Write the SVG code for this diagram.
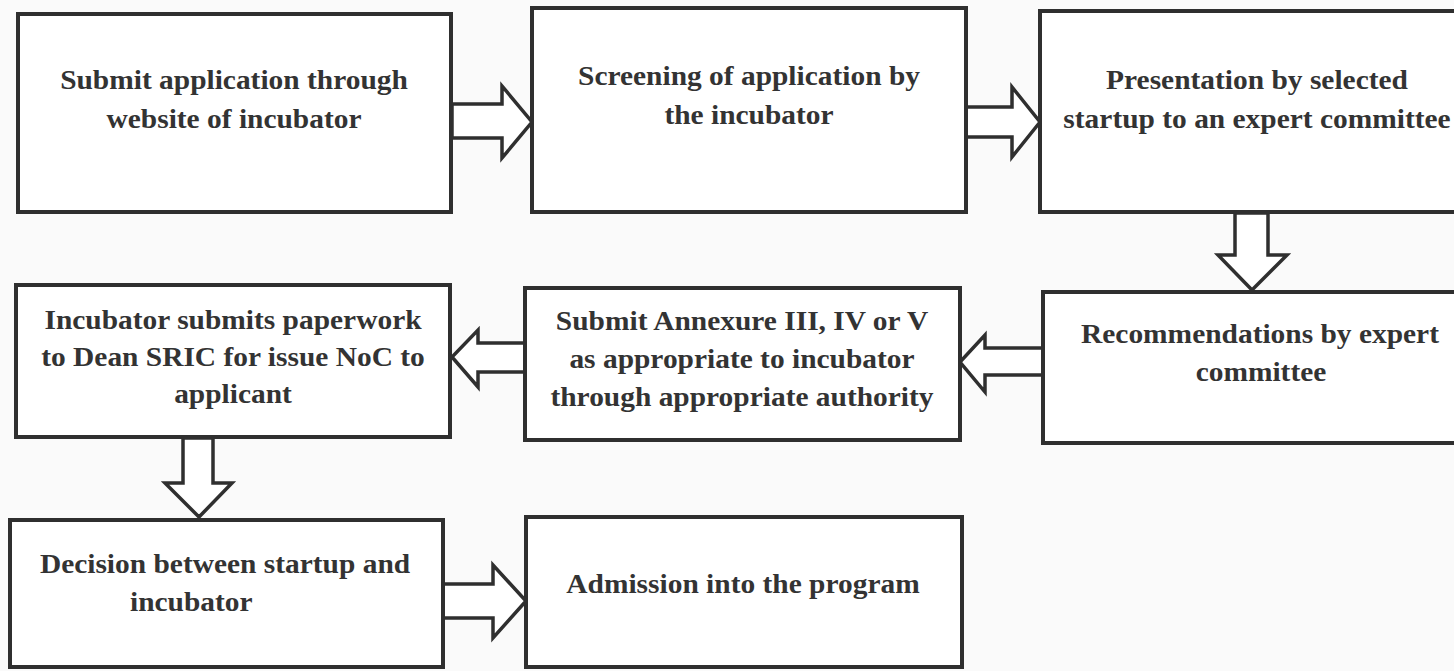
<svg xmlns="http://www.w3.org/2000/svg" width="1454" height="671" viewBox="0 0 1454 671">
<style>
.box{fill:#ffffff;stroke:#2f2f2f;stroke-width:4}
.arr{fill:#ffffff;stroke:#2f2f2f;stroke-width:3.5;stroke-linejoin:miter}
.t{font-family:"Liberation Serif","Times New Roman",serif;font-weight:bold;font-size:27px;fill:#333333;text-anchor:middle}
.s{text-anchor:start}
</style>
<rect x="0" y="0" width="1454" height="671" fill="#fafafa"/>
<g id="connectors">
<polygon class="arr" points="452,104 502,104 502,86 532,122 502,158 502,138 452,138"/>
<polygon class="arr" points="966,107 1012,107 1012,87 1040,122 1012,157 1012,137 966,137"/>
<polygon class="arr" points="1235,213 1268,213 1268,255 1287,255 1252,290 1218,255 1235,255"/>
<polygon class="arr" points="1043,348 985,348 985,335 960,362 985,392 985,375 1043,375"/>
<polygon class="arr" points="525,343 478,343 478,330 452,357 478,387 478,372 525,372"/>
<polygon class="arr" points="183,438 213,438 213,483 232,483 199,517 165,483 183,483"/>
<polygon class="arr" points="443,584 493,584 493,565 526,601 493,638 493,618 443,618"/>
</g>
<g id="n1">
<rect class="box" x="18" y="14" width="433" height="198"/>
<text class="t" transform="matrix(1.09 0 0 1 234 0)" x="0" y="89">Submit application through</text>
<text class="t" transform="matrix(1.09 0 0 1 234 0)" x="0" y="128">website of incubator</text>
</g>
<g id="n2">
<rect class="box" x="532" y="8" width="434" height="204"/>
<text class="t" transform="matrix(1.09 0 0 1 749 0)" x="0" y="85">Screening of application by</text>
<text class="t" transform="matrix(1.09 0 0 1 749 0)" x="0" y="124">the incubator</text>
</g>
<g id="n3">
<rect class="box" x="1040" y="11" width="424" height="201"/>
<text class="t" transform="matrix(1.09 0 0 1 1257 0)" x="0" y="89">Presentation by selected</text>
<text class="t" transform="matrix(1.09 0 0 1 1257 0)" x="0" y="128">startup to an expert committee</text>
</g>
<g id="n6">
<rect class="box" x="1043" y="292" width="424" height="151"/>
<text class="t" transform="matrix(1.09 0 0 1 1260 0)" x="0" y="343">Recommendations by expert</text>
<text class="t" transform="matrix(1.09 0 0 1 1261 0)" x="0" y="381">committee</text>
</g>
<g id="n5">
<rect class="box" x="525" y="288" width="435" height="152"/>
<text class="t" transform="matrix(1.09 0 0 1 742 0)" x="0" y="330">Submit Annexure III, IV or V</text>
<text class="t" transform="matrix(1.09 0 0 1 742 0)" x="0" y="368">as appropriate to incubator</text>
<text class="t" transform="matrix(1.09 0 0 1 742 0)" x="0" y="406">through appropriate authority</text>
</g>
<g id="n4">
<rect class="box" x="16" y="285" width="434" height="152"/>
<text class="t" transform="matrix(1.09 0 0 1 233 0)" x="0" y="329">Incubator submits paperwork</text>
<text class="t" transform="matrix(1.09 0 0 1 233 0)" x="0" y="366">to Dean SRIC for issue NoC to</text>
<text class="t" transform="matrix(1.09 0 0 1 233 0)" x="0" y="403">applicant</text>
</g>
<g id="n7">
<rect class="box" x="10" y="520" width="433" height="147"/>
<text class="t" transform="matrix(1.09 0 0 1 225 0)" x="0" y="573">Decision between startup and</text>
<text class="t s" transform="matrix(1.09 0 0 1 130 0)" x="0" y="611">incubator</text>
</g>
<g id="n8">
<rect class="box" x="526" y="517" width="436" height="150"/>
<text class="t" transform="matrix(1.09 0 0 1 743 0)" x="0" y="593">Admission into the program</text>
</g>
</svg>
